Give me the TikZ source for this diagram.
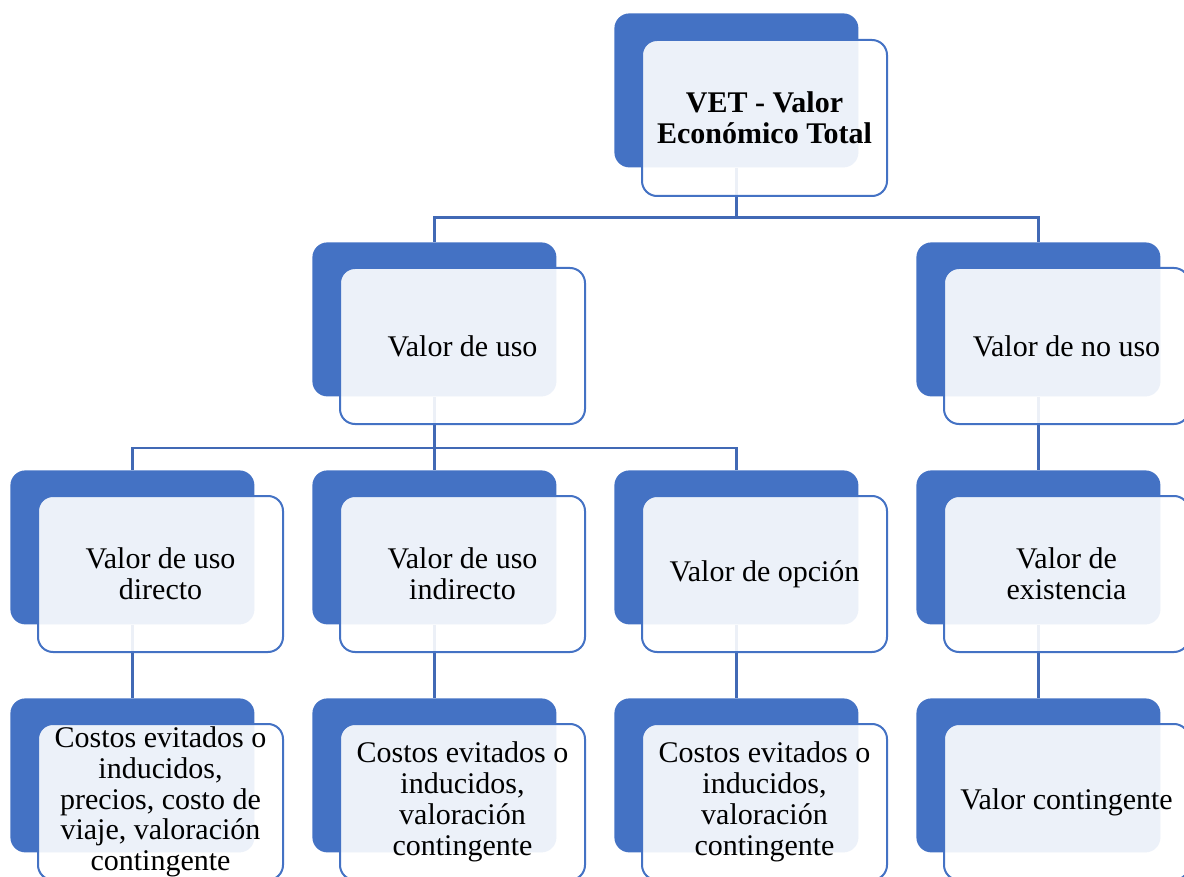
\documentclass[tikz,border=0pt]{standalone}
\usepackage{fontspec}
\setmainfont{Liberation Serif}
\definecolor{accent}{HTML}{4472C4}
\definecolor{linec}{HTML}{4169B5}
\begin{document}
\begin{tikzpicture}[x=0.5pt,y=-0.5pt,
 backbox/.style={fill=accent, rounded corners=7.5pt, minimum width=122pt, minimum height=77pt, inner sep=0pt, anchor=north west},
 frontbox/.style={fill=white, fill opacity=0.9, text opacity=1, draw=accent, line width=1pt, rounded corners=7.5pt, minimum width=122.5pt, minimum height=78pt, inner sep=0pt, anchor=north west, align=center, font=\fontsize{15}{15.4}\selectfont},
 conn/.style={draw=linec, line width=1.3pt}]
\useasboundingbox (0,0) rectangle (1184,877);
% back boxes
\node[backbox] (b0) at (614,13) {};
\node[backbox] (bU) at (312,242) {};
\node[backbox] (bN) at (916,242) {};
\node[backbox] (b11) at (10,470) {};
\node[backbox] (b12) at (312,470) {};
\node[backbox] (b13) at (614,470) {};
\node[backbox] (b14) at (916,470) {};
\node[backbox] (b21) at (10,698) {};
\node[backbox] (b22) at (312,698) {};
\node[backbox] (b23) at (614,698) {};
\node[backbox] (b24) at (916,698) {};
% connectors
\draw[conn] (b0.south) -- ++(0,50) coordinate (j0);
\draw[conn] (bU.north) |- (j0) -| (bN.north);
\draw[conn] (bU.south) -- ++(0,51) coordinate (j1);
\draw[conn] (b11.north) |- (j1) -| (b13.north);
\draw[conn] (j1) -- (b12.north);
\draw[conn] (bN.south) -- (b14.north);
\draw[conn] (b11.south) -- (b21.north);
\draw[conn] (b12.south) -- (b22.north);
\draw[conn] (b13.south) -- (b23.north);
\draw[conn] (b14.south) -- (b24.north);
% front boxes
\node[frontbox] (f0) at (641,39) {\textbf{VET - Valor}\\\textbf{Económico Total}};
\node[frontbox] (fU) at (339,267) {Valor de uso};
\node[frontbox] (fN) at (943,267) {Valor de no uso};
\node[frontbox] (f11) at (37,495) {Valor de uso\\directo};
\node[frontbox] (f12) at (339,495) {Valor de uso\\indirecto};
\node[frontbox] (f13) at (641,495) {Valor de opción};
\node[frontbox] (f14) at (943,495) {Valor de\\existencia};
\node[frontbox] (f21) at (37,723) {Costos evitados o\\inducidos,\\precios, costo de\\viaje, valoración\\contingente};
\node[frontbox] (f22) at (339,723) {Costos evitados o\\inducidos,\\valoración\\contingente};
\node[frontbox] (f23) at (641,723) {Costos evitados o\\inducidos,\\valoración\\contingente};
\node[frontbox] (f24) at (943,723) {Valor contingente};
\end{tikzpicture}
\end{document}
